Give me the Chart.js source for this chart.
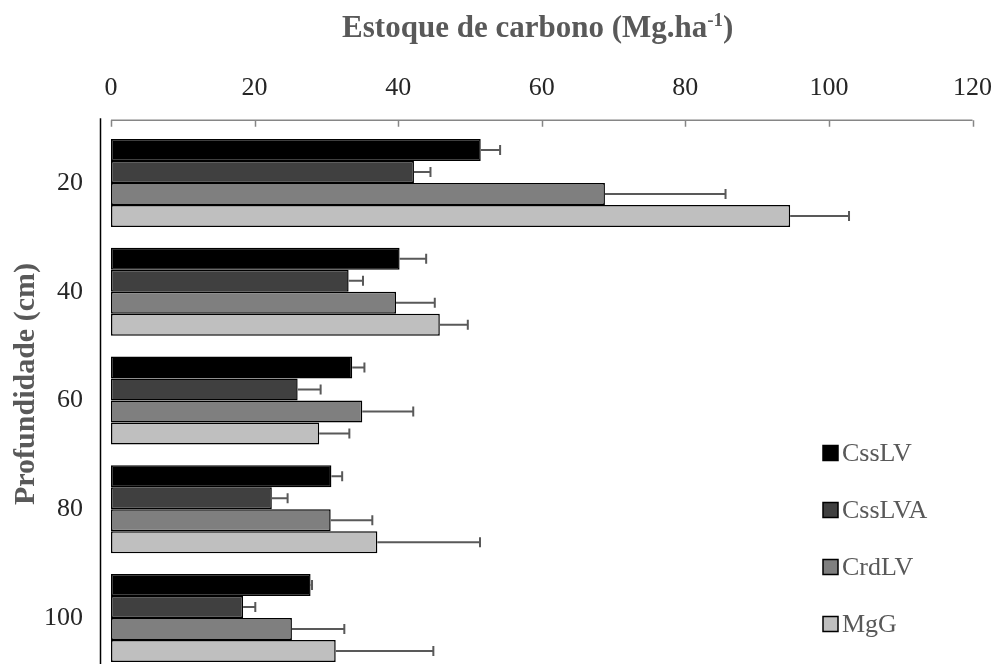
<!DOCTYPE html>
<html>
<head>
<meta charset="utf-8">
<title>Estoque de carbono</title>
<script src="https://cdn.jsdelivr.net/npm/chart.js@4"></script>
<style>
  html, body { margin: 0; padding: 0; background: #fff; overflow: hidden; }
  #wrap { width: 1017px; height: 716px; }
</style>
</head>
<body>
<div id="wrap"><canvas id="chart" width="1017" height="716"></canvas></div>
<script>
  "use strict";

  // depth classes (cm)
  const depths = ['20', '40', '60', '80', '100'];
  const xTicks = [0, 20, 40, 60, 80, 100, 120];

  const seriesNames = ['CssLV', 'CssLVA', 'CrdLV', 'MgG'];
  const seriesColors = ['#000000', '#404040', '#7f7f7f', '#bfbfbf'];

  // carbon stock (Mg.ha-1) and error (upper bar only)
  const cssLV = [51.5, 40.2, 33.6, 30.7, 27.8];
  const cssLVErr = [2.7, 3.7, 1.7, 1.5, 0.2];
  const cssLVA = [42.2, 33.1, 26.0, 22.4, 18.4];
  const cssLVAErr = [2.3, 2.0, 3.2, 2.2, 1.7];
  const crdLV = [68.8, 39.7, 35.0, 30.6, 25.2];
  const crdLVErr = [16.8, 5.4, 7.1, 5.8, 7.3];
  const mgG = [94.6, 45.8, 29.0, 37.1, 31.3];
  const mgGErr = [8.2, 3.9, 4.2, 14.3, 13.6];

  const values = [cssLV, cssLVA, crdLV, mgG];
  const errors = [cssLVErr, cssLVAErr, crdLVErr, mgGErr];

  const serif = '"Liberation Serif", "Times New Roman", serif';
  const grey = '#595959';

  // top axis line with inward ticks + the left vertical line
  const axisLines = {
    id: 'axisLines',
    afterDraw(chart) {
      const ctx = chart.ctx;
      const x = chart.scales.x;
      const area = chart.chartArea;
      const yLine = area.top - 8.5;
      ctx.save();
      ctx.strokeStyle = '#868686';
      ctx.lineWidth = 1.5;
      ctx.beginPath();
      ctx.moveTo(x.getPixelForValue(xTicks[0]), yLine);
      ctx.lineTo(x.getPixelForValue(xTicks[xTicks.length - 1]), yLine);
      xTicks.forEach(function (t) {
        const px = Math.round(x.getPixelForValue(t)) + 0.5;
        ctx.moveTo(px, yLine);
        ctx.lineTo(px, yLine + 6.5);
      });
      ctx.stroke();

      ctx.strokeStyle = '#000';
      ctx.lineWidth = 1.5;
      ctx.beginPath();
      ctx.moveTo(area.left - 10.5, area.top - 10.5);
      ctx.lineTo(area.left - 10.5, chart.height);
      ctx.stroke();
      ctx.restore();
    }
  };

  const errorBars = {
    id: 'errorBars',
    afterDatasetsDraw(chart) {
      const ctx = chart.ctx;
      const x = chart.scales.x;
      ctx.save();
      ctx.strokeStyle = grey;
      ctx.lineWidth = 2;
      chart.data.datasets.forEach(function (ds, i) {
        const meta = chart.getDatasetMeta(i);
        meta.data.forEach(function (bar, j) {
          const x0 = x.getPixelForValue(ds.data[j]);
          const x1 = x.getPixelForValue(ds.data[j] + errors[i][j]);
          ctx.beginPath();
          ctx.moveTo(x0, bar.y);
          ctx.lineTo(x1, bar.y);
          ctx.moveTo(x1, bar.y - 5);
          ctx.lineTo(x1, bar.y + 5);
          ctx.stroke();
        });
      });
      ctx.restore();
    }
  };

  const titlesAndLegend = {
    id: 'titlesAndLegend',
    afterDraw(chart) {
      const ctx = chart.ctx;
      const area = chart.chartArea;
      ctx.save();
      ctx.fillStyle = grey;

      // value axis title with superscript
      const main = 'Estoque de carbono (Mg.ha';
      const sup = '-1';
      const close = ')';
      ctx.font = 'bold 31px ' + serif;
      const wMain = ctx.measureText(main).width;
      const wClose = ctx.measureText(close).width;
      ctx.font = 'bold 19px ' + serif;
      const wSup = ctx.measureText(sup).width;
      let tx = (area.left + area.right) / 2 - (wMain + wSup + wClose) / 2 - 4;
      const base = 37;
      ctx.textBaseline = 'alphabetic';
      ctx.textAlign = 'left';
      ctx.font = 'bold 31px ' + serif;
      ctx.fillText(main, tx, base);
      tx += wMain;
      ctx.font = 'bold 19px ' + serif;
      ctx.fillText(sup, tx, base - 11);
      tx += wSup;
      ctx.font = 'bold 31px ' + serif;
      ctx.fillText(close, tx, base);

      // category axis title
      ctx.save();
      ctx.translate(33.5, 384);
      ctx.rotate(-Math.PI / 2);
      ctx.textAlign = 'center';
      ctx.font = 'bold 30px ' + serif;
      ctx.fillText('Profundidade (cm)', 0, 0);
      ctx.restore();

      // legend
      ctx.font = '26px ' + serif;
      ctx.textBaseline = 'middle';
      chart.data.datasets.forEach(function (ds, i) {
        const cy = 453 + i * 57;
        ctx.fillStyle = ds.backgroundColor;
        ctx.fillRect(823, cy - 7.5, 15, 15);
        ctx.strokeStyle = '#000';
        ctx.lineWidth = 1.5;
        ctx.strokeRect(823, cy - 7.5, 15, 15);
        ctx.fillStyle = grey;
        ctx.fillText(ds.label, 842, cy + 1);
      });
      ctx.restore();
    }
  };

  const datasets = seriesNames.map(function (name, i) {
    return {
      label: name,
      data: values[i],
      backgroundColor: seriesColors[i],
      borderColor: '#000',
      borderWidth: 1.5,
      borderSkipped: false,
      barPercentage: 1.0,
      categoryPercentage: 0.81
    };
  });

  new Chart(document.getElementById('chart').getContext('2d'), {
    type: 'bar',
    data: { labels: depths, datasets: datasets },
    options: {
      responsive: false,
      animation: false,
      indexAxis: 'y',
      layout: { padding: { left: 0, right: 24, top: 0, bottom: 0 } },
      plugins: {
        legend: { display: false },
        tooltip: { enabled: false }
      },
      scales: {
        x: {
          position: 'top',
          min: 0,
          max: 120,
          afterBuildTicks: function (scale) {
            scale.ticks = xTicks.map(function (v) { return { value: v }; });
          },
          afterFit: function (scale) { scale.height = 128.7; },
          grid: { display: false, drawTicks: false },
          border: { display: false },
          ticks: {
            padding: 25,
            color: '#262626',
            font: { family: serif, size: 26 }
          }
        },
        y: {
          afterFit: function (scale) { scale.width = 111; },
          grid: { display: false, drawTicks: false },
          border: { display: false },
          ticks: {
            padding: 28,
            color: '#262626',
            font: { family: serif, size: 26 }
          }
        }
      }
    },
    plugins: [axisLines, errorBars, titlesAndLegend]
  });
</script>
</body>
</html>
